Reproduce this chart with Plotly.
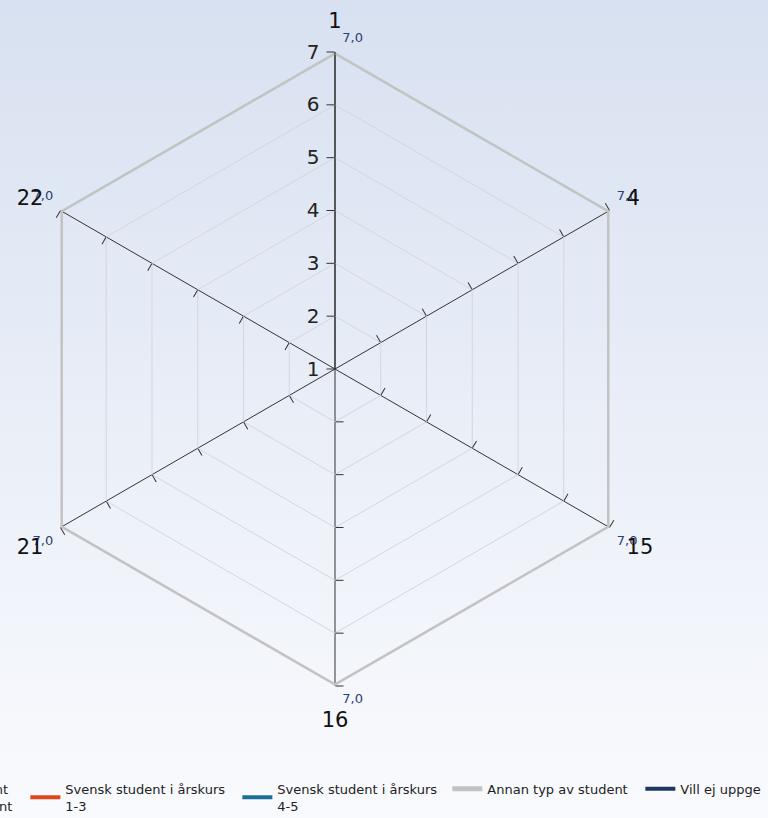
import base64
import plotly.graph_objects as go

# ---------------- data ----------------
categories = ["1", "4", "15", "16", "21", "22"]
series_names = [
    "Utbytesstudent<br>Programstudent",
    "Svensk student i årskurs<br>1-3",
    "Svensk student i årskurs<br>4-5",
    "Annan typ av student",
    "Vill ej uppge",
]
series_colors = ["#8c9c3a", "#e2471c", "#1b6e98", "#c3c3c3", "#1f3663"]
values_utbyte = [None, None, None, None, None, None]
values_sv13 = [None, None, None, None, None, None]
values_sv45 = [None, None, None, None, None, None]
values_annan = [7.0, 7.0, 7.0, 7.0, 7.0, 7.0]
values_vill_ej = [None, None, None, None, None, None]
series_values = [values_utbyte, values_sv13, values_sv45, values_annan, values_vill_ej]
radial_ticks = [1, 2, 3, 4, 5, 6, 7]
label_positions = ["top right", "top right", "bottom right", "bottom right", "bottom left", "top left"]
legend_widths = [None, 167, 165, 148, None]

FONT = "DejaVu Sans"
W, H = 768, 818

fig = go.Figure()

# series (closed polygons)
for i, (name, col, vals, lw) in enumerate(zip(series_names, series_colors, series_values, legend_widths)):
    tr = go.Scatterpolar(
        r=vals + vals[:1], theta=categories + categories[:1],
        mode="lines", name=name,
        line=dict(color=col, width=5 if i == 3 else 4),
        legend="legend" if i == 0 else "legend2",
        subplot="polar", hoverinfo="skip",
    )
    if lw:
        tr.legendwidth = lw
    fig.add_trace(tr)

# value labels for the visible series
fig.add_trace(go.Scatterpolar(
    r=values_annan, theta=categories, mode="markers+text",
    text=[f"{v:.1f}".replace(".", ",") for v in values_annan],
    textposition=label_positions,
    textfont=dict(family=FONT, size=13, color="#2b3f6b"),
    marker=dict(size=10, color="rgba(0,0,0,0)"),
    showlegend=False, hoverinfo="skip", subplot="polar",
))

# polar domain (same for all overlays)
cx, cy, R = 335, 369, 317
dom_x = [(cx - R) / W, (cx + R) / W]
dom_y = [(H - cy - R) / H, (H - cy + R) / H]

fig.update_layout(
    polar=dict(
        domain=dict(x=dom_x, y=dom_y),
        bgcolor="rgba(0,0,0,0)",
        gridshape="linear",
        radialaxis=dict(
            range=[1, 7], angle=90, side="counterclockwise", tickangle=90,
            tickvals=radial_ticks, ticktext=[str(t) for t in radial_ticks],
            ticks="outside", ticklen=8, tickwidth=1, tickcolor="#333333",
            tickfont=dict(family=FONT, size=20, color="#222222"),
            showline=True, linecolor="#222222", linewidth=1,
            gridcolor="#d3d7dd", gridwidth=1,
        ),
        angularaxis=dict(
            type="category", categoryarray=categories,
            rotation=90, direction="clockwise",
            showline=False, gridcolor="#333333", gridwidth=1,
            ticks="outside", ticklen=15, tickcolor="rgba(0,0,0,0)",
            tickfont=dict(family=FONT, size=21, color="#111111"),
        ),
    ),
)

# overlay polars: tick marks on the other spokes
spoke_angles = [30, -30, -90, -150, 150]
for k, ang in enumerate(spoke_angles, start=2):
    pid = f"polar{k}"
    fig.add_trace(go.Scatterpolar(r=[None], theta=[None], mode="lines",
                                  showlegend=False, hoverinfo="skip", subplot=pid))
    fig.update_layout({pid: dict(
        domain=dict(x=dom_x, y=dom_y),
        bgcolor="rgba(0,0,0,0)",
        radialaxis=dict(range=[1, 7], angle=ang, side="counterclockwise",
                        tickvals=radial_ticks[1:], showticklabels=False,
                        ticks="outside", ticklen=8, tickwidth=1, tickcolor="#333333",
                        showline=False, showgrid=False),
        angularaxis=dict(visible=False),
    )})

# background gradient
svg = ('<svg xmlns="http://www.w3.org/2000/svg" width="10" height="100" viewBox="0 0 10 100" '
       'preserveAspectRatio="none"><defs><linearGradient id="g" x1="0" y1="0" x2="0" y2="1">'
       '<stop offset="0" stop-color="#d8e1f1"/><stop offset="0.89" stop-color="#f6f8fc"/>'
       '<stop offset="1" stop-color="#f9fafd"/></linearGradient></defs>'
       '<rect width="10" height="100" fill="url(#g)"/></svg>')
src = "data:image/svg+xml;base64," + base64.b64encode(svg.encode()).decode()

fig.update_layout(
    width=W, height=H,
    margin=dict(l=0, r=0, t=0, b=0, autoexpand=False),
    paper_bgcolor="#f9fafd",
    images=[dict(source=src, xref="paper", yref="paper", x=0, y=1, sizex=1, sizey=1,
                 sizing="stretch", layer="below", xanchor="left", yanchor="top")],
    font=dict(family=FONT, size=13, color="#222222"),
    legend=dict(orientation="h", x=-0.172, xanchor="left", y=0.054, yanchor="top",
                bgcolor="rgba(0,0,0,0)", font=dict(family=FONT, size=13, color="#222222")),
    legend2=dict(orientation="h", x=0.033, xanchor="left", y=0.054, yanchor="top",
                 bgcolor="rgba(0,0,0,0)", font=dict(family=FONT, size=13, color="#222222")),
    showlegend=True,
)

fig.write_html(
    "out.html",
    config={"displayModeBar": False},
    post_script="document.body.style.margin='0';document.body.style.overflow='hidden';",
)
